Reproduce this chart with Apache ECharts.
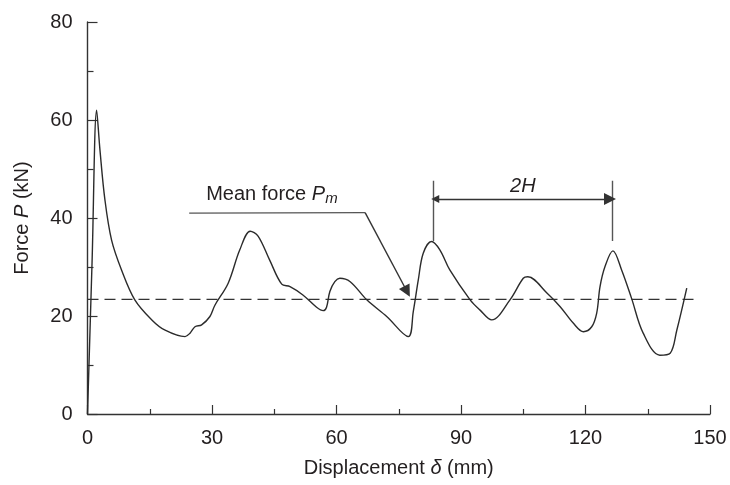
<!DOCTYPE html>
<html>
<head>
<meta charset="utf-8">
<script src="https://cdn.jsdelivr.net/npm/echarts@6/dist/echarts.min.js"></script>
<style>
html,body{margin:0;padding:0;background:#fff;}
#chart{width:730px;height:485px;}
</style>
</head>
<body>
<div id="chart"></div>
<script>
// Displacement (mm) and force (kN)
const displacement = [0, 1.1, 2.2, 3.0, 4.2, 5.8, 8.2, 11.4, 15.5, 18.7, 23.5, 24.7, 25.9, 27.5, 29.5, 30.7, 33.9, 36.7, 39.2, 41.1, 43.9, 46.8, 48.8, 51.9, 55.2, 56.8, 57.6, 58.4, 59.6, 60.8, 63.3, 67.3, 72.1, 77.3, 78.5, 79.7, 80.9, 82.9, 84.9, 87.3, 92.2, 94.6, 97.4, 101.8, 105.0, 106.1, 110.7, 113.9, 117.1, 119.5, 121.5, 122.7, 123.5, 124.7, 126.6, 128.7, 131.1, 133.9, 137.9, 140.4, 142.0, 144.4];
const force = [0, 31.0, 62.0, 53.9, 43.7, 35.5, 29.4, 23.3, 19.2, 17.1, 15.8, 16.5, 17.8, 18.2, 19.9, 22.2, 26.7, 33.5, 37.3, 36.3, 31.4, 26.5, 26.0, 24.3, 21.8, 21.1, 21.8, 25.0, 27.0, 27.7, 27.0, 23.3, 19.9, 15.8, 20.9, 27.3, 32.8, 35.2, 33.5, 29.4, 23.3, 21.2, 19.2, 23.3, 27.7, 28.0, 24.7, 21.9, 18.5, 16.8, 17.8, 20.6, 26.0, 30.1, 33.3, 29.4, 23.6, 16.5, 12.0, 12.4, 17.1, 25.7];

// Mean force line
const meanForce = 23.4;
const meanLineX = [0, 146.8];

// Axis ticks
const xTicks = [0, 30, 60, 90, 120, 150];
const yTicks = [0, 20, 40, 60, 80];

// Annotation anchors (data units)
const leaderH = [[24.5, 41.0], [66.9, 41.1]];
const leaderArrow = [[66.9, 41.1], [77.0, 25.0]];
const periodMarkA = [[83.3, 35.3], [83.3, 47.6]];
const periodMarkB = [[126.4, 35.3], [126.4, 47.6]];
const periodArrow = [[83.8, 43.9], [125.9, 43.9]];
const meanLabelPos = [28.6, 44.9];
const periodLabelPos = [104.9, 46.5];

const textColor = '#231f20';
const fontFam = '"Liberation Sans", Arial, Helvetica, sans-serif';

const curve = displacement.map((x, i) => [x, force[i]]);

const chart = echarts.init(document.getElementById('chart'), null, {renderer: 'canvas'});
chart.setOption({
  backgroundColor: '#ffffff',
  animation: false,
  grid: {left: 87.5, right: 20, top: 22, bottom: 71, containLabel: false},
  xAxis: {
    type: 'value', min: xTicks[0], max: xTicks[xTicks.length - 1], interval: 30,
    name: '{a|Displacement }{i|δ}{a| (mm)}', nameLocation: 'middle', nameGap: 44,
    nameTextStyle: {fontSize: 20, color: textColor, fontFamily: fontFam,
      rich: {a: {fontSize: 20, color: textColor, fontFamily: fontFam},
             i: {fontSize: 20, color: textColor, fontFamily: fontFam, fontStyle: 'italic'}}},
    axisLine: {lineStyle: {color: '#333', width: 1.4}},
    axisTick: {inside: true, length: 9, lineStyle: {color: '#333', width: 1.2}},
    minorTick: {show: true, splitNumber: 2, length: 5, lineStyle: {color: '#333', width: 1.2}},
    axisLabel: {fontSize: 20, color: textColor, fontFamily: fontFam, margin: 14},
    splitLine: {show: false}
  },
  yAxis: {
    type: 'value', min: yTicks[0], max: yTicks[yTicks.length - 1], interval: 20,
    name: '{a|Force }{i|P}{a| (kN)}', nameLocation: 'middle', nameGap: 55, nameRotate: 90,
    nameTextStyle: {fontSize: 20, color: textColor, fontFamily: fontFam,
      rich: {a: {fontSize: 20, color: textColor, fontFamily: fontFam},
             i: {fontSize: 20, color: textColor, fontFamily: fontFam, fontStyle: 'italic'}}},
    axisLine: {show: true, lineStyle: {color: '#333', width: 1.4}},
    axisTick: {inside: true, length: 10, lineStyle: {color: '#333', width: 1.2}},
    minorTick: {show: true, splitNumber: 2, length: 6, lineStyle: {color: '#333', width: 1.2}},
    axisLabel: {fontSize: 20, color: textColor, fontFamily: fontFam, margin: 15},
    splitLine: {show: false}
  },
  series: [
    {
      type: 'line', data: curve, smooth: 0.35, showSymbol: false,
      lineStyle: {color: '#2b2b2b', width: 1.4}, z: 5
    },
    {
      type: 'line', data: meanLineX.map(x => [x, meanForce]), showSymbol: false,
      lineStyle: {color: '#333', width: 1.3, type: [11, 6]}, z: 4
    },
    {
      type: 'lines', coordinateSystem: 'cartesian2d', symbol: ['none', 'none'],
      lineStyle: {color: '#555', width: 1.4, opacity: 1},
      data: [{coords: leaderH}, {coords: periodMarkA}, {coords: periodMarkB}], z: 6
    },
    {
      type: 'lines', coordinateSystem: 'cartesian2d', symbol: ['none', 'triangle'], symbolSize: [8, 12],
      lineStyle: {color: '#333', width: 1.4, opacity: 1},
      data: [{coords: leaderArrow}], z: 6
    },
    {
      type: 'lines', coordinateSystem: 'cartesian2d', symbol: ['triangle', 'triangle'], symbolSize: [8, 12],
      lineStyle: {color: '#333', width: 1.4, opacity: 1},
      data: [{coords: periodArrow}], z: 6
    },
    {
      type: 'scatter', symbolSize: 0, silent: true, z: 7,
      itemStyle: {opacity: 1, color: 'rgba(0,0,0,0)'},
      data: [
        {value: meanLabelPos, label: {show: true, position: [0, 0], align: 'left', verticalAlign: 'middle',
          formatter: '{n|Mean force }{i|P}{s|m}',
          rich: {
            n: {fontSize: 20, lineHeight: 24, color: textColor, fontFamily: fontFam},
            i: {fontSize: 20, lineHeight: 24, color: textColor, fontFamily: fontFam, fontStyle: 'italic'},
            s: {fontSize: 15, lineHeight: 14, color: textColor, fontFamily: fontFam, fontStyle: 'italic', verticalAlign: 'bottom'}
          }}},
        {value: periodLabelPos, label: {show: true, position: [0, 0], align: 'center', verticalAlign: 'middle',
          formatter: '2H', fontSize: 20, color: textColor, fontFamily: fontFam, fontStyle: 'italic'}}
      ]
    }
  ]
});
</script>
</body>
</html>
